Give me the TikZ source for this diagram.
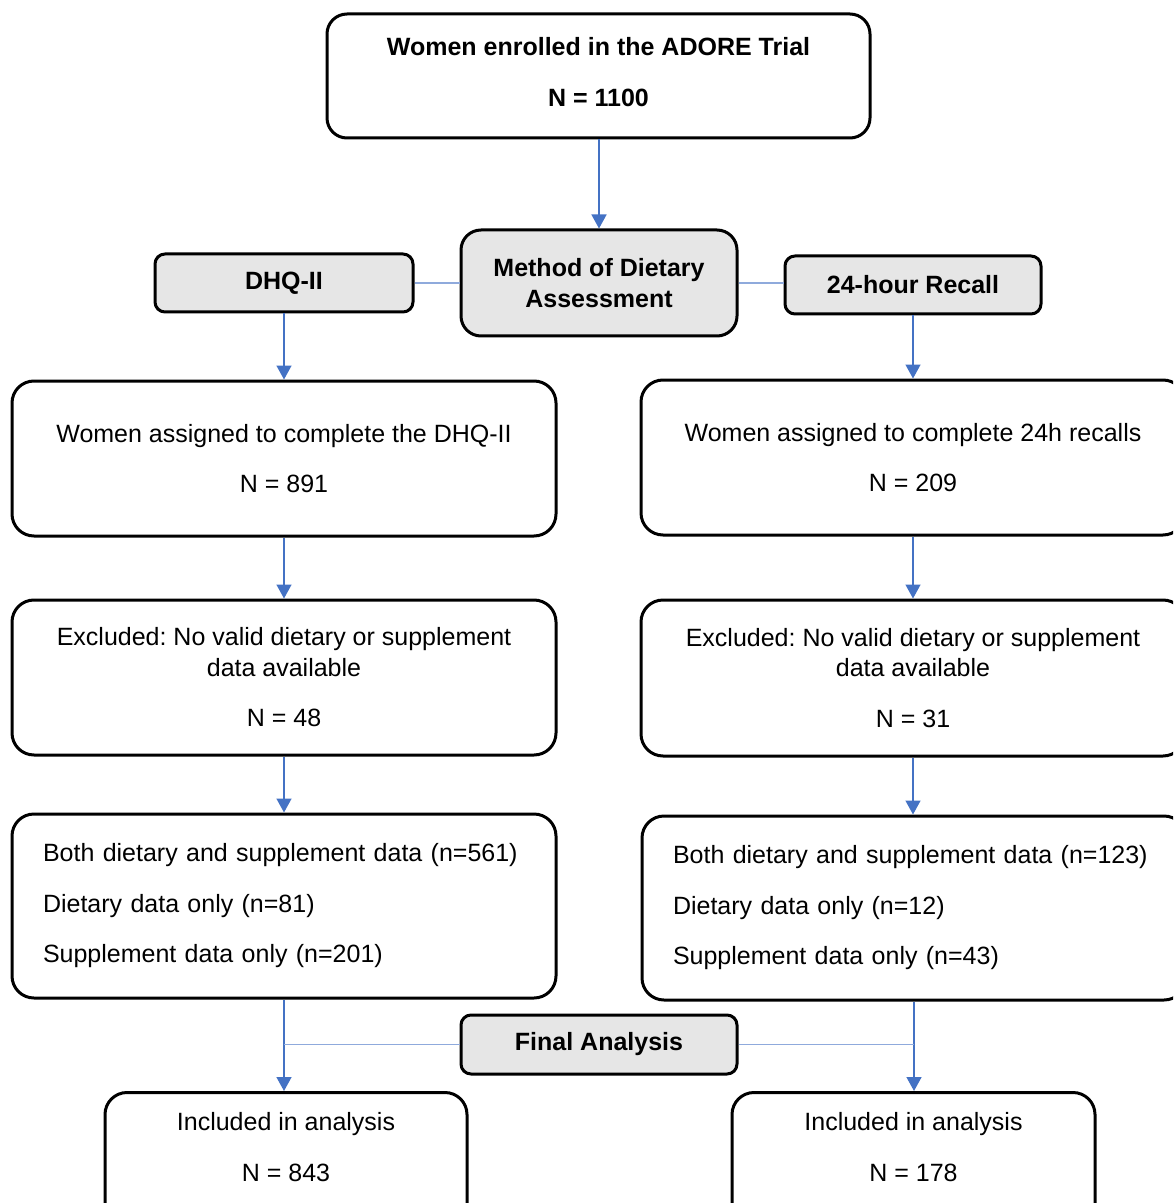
\documentclass[tikz,border=0pt]{standalone}
\usepackage{fontspec}
\setmainfont{Liberation Sans}
\usetikzlibrary{arrows.meta, positioning}
\definecolor{FlowBlue}{HTML}{4472C4}
\definecolor{LinkBlue}{HTML}{8FAADC}
\definecolor{BoxGray}{HTML}{E6E6E6}
\frenchspacing

\begin{document}
\begin{tikzpicture}[x=0.5pt, y=-0.5pt,
    box/.style={rectangle, rounded corners=11pt, draw=black, line width=1.5pt,
                fill=white, align=center, inner sep=0pt,
                font=\fontsize{12.5}{15.25}\selectfont},
    head/.style={box, rounded corners=5pt, fill=BoxGray,
                 font=\fontsize{12.5}{15.25}\selectfont\bfseries},
    list/.style={box, align=left, text width=241pt, inner xsep=15.5pt},
    arrow/.style={-{Triangle[width=7.5pt,length=7pt]}, line width=0.75pt, color=FlowBlue},
    link/.style={line width=0.75pt, color=LinkBlue}
]
    \useasboundingbox (0,0) rectangle (1173,1203);
    \clip (0,0) rectangle (1173,1203);
    \node[box, rounded corners=10pt, minimum width=271.5pt, minimum height=62pt, text depth=4pt,
          font=\fontsize{12.5}{15.25}\selectfont\bfseries] (enroll) at (598.5,76)
          {Women enrolled in the ADORE Trial\\[10pt]N = 1100};
    \node[head, rounded corners=10pt, minimum width=138pt, minimum height=53pt] (method) at (599,283)
          {Method of Dietary\\Assessment};
    \node[head, minimum width=129pt, minimum height=29pt] (dhq) at (284,283) {DHQ-II};
    \node[head, minimum width=128pt, minimum height=29pt] (recall) at (913,285) {24-hour Recall};
    \node[box, minimum width=272pt, minimum height=77.5pt] (assignL) at (284,458.5)
          {Women assigned to complete the DHQ-II\\[10pt]N = 891};
    \node[box, minimum width=272pt, minimum height=77.5pt] (assignR) at (913,457.5)
          {Women assigned to complete 24h recalls\\[10pt]N = 209};
    \node[box, minimum width=272pt, minimum height=77.5pt] (exclL) at (284,677.5)
          {Excluded: No valid dietary or supplement\\data available\\[10pt]N = 48};
    \node[box, minimum width=272pt, minimum height=78pt] (exclR) at (913,678)
          {Excluded: No valid dietary or supplement\\data available\\[10pt]N = 31};
    \node[list, minimum height=92pt] (dataL) at (284,906)
          {Both dietary and supplement data (n=561)\\[10pt]Dietary data only (n=81)\\[10pt]Supplement data only (n=201)};
    \node[list, minimum height=92pt] (dataR) at (914,908)
          {Both dietary and supplement data (n=123)\\[10pt]Dietary data only (n=12)\\[10pt]Supplement data only (n=43)};
    \node[head, minimum width=138pt, minimum height=29.5pt] (final) at (599,1044.5) {Final Analysis};
    \node[box, anchor=north, minimum width=181pt, inner ysep=10pt, text depth=45pt] (inclL) at (286,1091)
          {Included in analysis\\[10pt]N = 843};
    \node[box, anchor=north, minimum width=181.5pt, inner ysep=10pt, text depth=45pt] (inclR) at (913.5,1091)
          {Included in analysis\\[10pt]N = 178};
    % connectors
    \draw[arrow] (enroll.south -| method.north) -- (method.north);
    \draw[link] (dhq) -- (method);
    \draw[link] (method) -- (method -| recall.west);
    \draw[arrow] (dhq.south) -- (dhq.south |- assignL.north);
    \draw[arrow] (recall.south) -- (recall.south |- assignR.north);
    \draw[arrow] (assignL) -- (exclL);
    \draw[arrow] (assignR.south) -- (assignR.south |- exclR.north);
    \draw[arrow] (exclL) -- (dataL);
    \draw[arrow] (exclR.south) -- (exclR.south |- dataR.north);
    \draw[arrow] (dataL.south) -- (dataL.south |- inclL.north);
    \draw[arrow] (dataR.south) -- (dataR.south |- inclR.north);
    \draw[link] (final) -- (final -| dataL.south);
    \draw[link] (final) -- (final -| dataR.south);
\end{tikzpicture}
\end{document}
